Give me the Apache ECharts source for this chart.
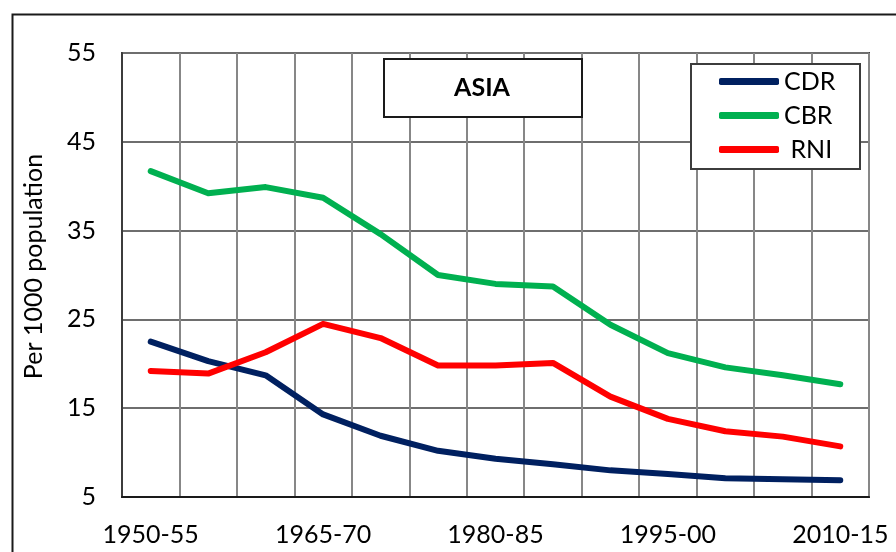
<!DOCTYPE html>
<html>
<head>
<meta charset="utf-8">
<script src="https://cdn.jsdelivr.net/npm/echarts@6/dist/echarts.min.js"></script>
<style>
  html, body { margin: 0; padding: 0; background: #fff; }
  #chart { width: 896px; height: 552px; }
</style>
</head>
<body>
<div id="chart"></div>
<script>
var periods = ['1950-55', '1955-60', '1960-65', '1965-70', '1970-75', '1975-80', '1980-85',
	'1985-90', '1990-95', '1995-00', '2000-05', '2005-10', '2010-15'];
var cdr = [22.5, 20.3, 18.7, 14.3, 11.9, 10.2, 9.3, 8.7, 8.0, 7.6, 7.1, 7.0, 6.9];
var cbr = [41.7, 39.2, 39.9, 38.7, 34.6, 30.0, 29.0, 28.7, 24.4, 21.2, 19.6, 18.7, 17.7];
var rni = [19.2, 18.9, 21.3, 24.5, 22.9, 19.8, 19.8, 20.1, 16.3, 13.8, 12.4, 11.8, 10.7];

var font = 'Lato, "Open Sans", sans-serif';

var chart = echarts.init(document.getElementById('chart'));

function lineSeries(name, data, color) {
	return {
		name: name,
		type: 'line',
		data: data,
		showSymbol: false,
		symbol: 'none',
		lineStyle: { color: color, width: 6, cap: 'round', join: 'round' },
		itemStyle: { color: color },
		z: 3
	};
}

var option = {
	animation: false,
	backgroundColor: '#fff',
	textStyle: { fontFamily: font },
	grid: {
		left: 122, right: 27, top: 53, bottom: 55,
		show: true, borderColor: '#3c3c3c', borderWidth: 2,
		containLabel: false
	},
	xAxis: {
		type: 'category',
		data: periods,
		boundaryGap: true,
		axisLine: { lineStyle: { color: '#1a1a1a', width: 2 } },
		axisTick: { show: false },
		axisLabel: { interval: 2, margin: 25, fontSize: 25, color: '#000', fontFamily: font },
		splitLine: { show: true, interval: 0, lineStyle: { color: '#878787', width: 2 } }
	},
	yAxis: {
		type: 'value',
		min: 5, max: 55, interval: 10,
		name: 'Per 1000 population',
		nameLocation: 'middle',
		nameGap: 76,
		nameTextStyle: { fontSize: 25, color: '#000', fontFamily: font, padding: [0, 0, 0, 17] },
		axisLine: { show: true, lineStyle: { color: '#3c3c3c', width: 2 } },
		axisTick: { show: false },
		axisLabel: { margin: 26, fontSize: 25, color: '#000', fontFamily: font },
		splitLine: { show: true, lineStyle: { color: '#6e6e6e', width: 2 } }
	},
	legend: {
		orient: 'vertical',
		left: 719, top: 69,
		padding: 0,
		itemWidth: 60, itemHeight: 7,
		itemGap: 9,
		icon: 'roundRect',
		data: ['CDR', 'CBR', 'RNI'],
		formatter: function(name) { return name === 'RNI' ? ' ' + name : name; },
		textStyle: { fontSize: 25, color: '#000', fontFamily: font }
	},
	graphic: [
		{
			type: 'rect', left: 10, top: 12, z: 0, silent: true,
			shape: { width: 900, height: 600 },
			style: { fill: 'none', stroke: '#1a1a1a', lineWidth: 2 }
		},
		{
			type: 'rect', left: 383, top: 58, z: 10,
			shape: { width: 198, height: 58 },
			style: { fill: '#fff', stroke: '#1a1a1a', lineWidth: 2 }
		},
		{
			type: 'text', z: 11,
			style: {
				x: 482, y: 88, text: 'ASIA', fontSize: 25, fontWeight: 'bold',
				fill: '#000', fontFamily: font, textAlign: 'center', textVerticalAlign: 'middle'
			}
		},
		{
			type: 'rect', left: 690, top: 63, z: 1,
			shape: { width: 169, height: 105 },
			style: { fill: '#fff', stroke: '#3c3c3c', lineWidth: 2 }
		}
	],
	series: [
		lineSeries('CDR', cdr, '#002060'),
		lineSeries('CBR', cbr, '#00B050'),
		lineSeries('RNI', rni, '#FF0000')
	]
};

chart.setOption(option);
</script>
</body>
</html>
